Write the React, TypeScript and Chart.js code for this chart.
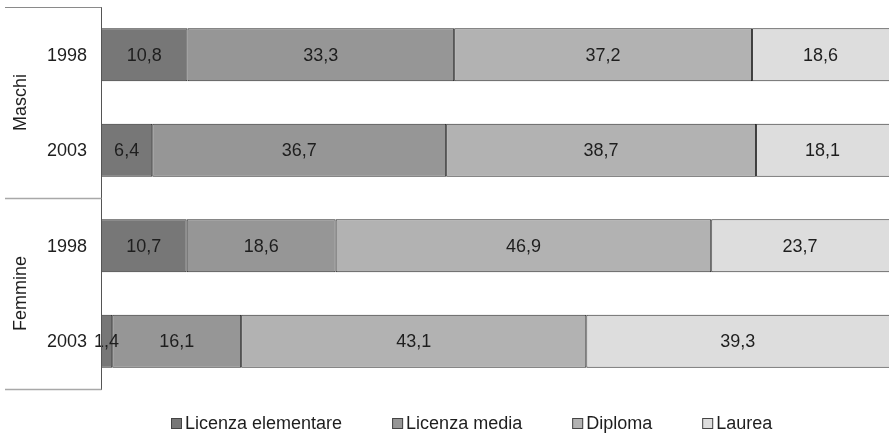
import React, { useEffect, useRef } from 'react';
import { Chart, registerables } from 'chart.js';

Chart.register(...registerables);

const groups = ['Maschi', 'Femmine'];
const years = ['1998', '2003', '1998', '2003'];
const seriesNames = ['Licenza elementare', 'Licenza media', 'Diploma', 'Laurea'];
const elementare = [10.8, 6.4, 10.7, 1.4];
const media = [33.3, 36.7, 18.6, 16.1];
const diploma = [37.2, 38.7, 46.9, 43.1];
const laurea = [18.6, 18.1, 23.7, 39.3];
const colors = ['#777777', '#969696', '#b2b2b2', '#dddddd'];

const FONT = '"Liberation Sans", Arial, sans-serif';
const TEXT = '#1e1e1e';

const decorPlugin = {
  id: 'decor',
  afterDatasetsDraw(chart: any) {
    const { ctx, chartArea } = chart;
    ctx.save();
    ctx.font = `18px ${FONT}`;
    ctx.fillStyle = TEXT;
    ctx.textAlign = 'center';
    ctx.textBaseline = 'middle';
    chart.data.datasets.forEach((ds: any, di: number) => {
      const meta = chart.getDatasetMeta(di);
      meta.data.forEach((el: any, i: number) => {
        const p = el.getProps(['x', 'y', 'base'], true);
        const a = Math.max(Math.min(p.x, p.base), chartArea.left);
        const b = Math.min(Math.max(p.x, p.base), chartArea.right);
        const cx = (a + b) / 2;
        const txt = ds.data[i].toFixed(1).replace('.', ',');
        ctx.fillText(txt, cx, p.y + 1);
      });
    });
    ctx.restore();
  },
  afterDraw(chart: any) {
    const { ctx, chartArea, scales } = chart;
    const { top, bottom, left } = chartArea;
    const band = (bottom - top) / years.length;
    ctx.save();
    // axis line
    ctx.strokeStyle = '#555555';
    ctx.lineWidth = 1;
    ctx.beginPath();
    ctx.moveTo(left + 0.5, top);
    ctx.lineTo(left + 0.5, bottom + 1);
    ctx.stroke();
    // separators
    for (let g = 0; g <= groups.length; g++) {
      const y = top + band * 2 * g;
      ctx.strokeStyle = g === 0 ? '#8a8a8a' : '#a8a8a8';
      ctx.lineWidth = g === 0 ? 1 : 1.5;
      ctx.beginPath();
      ctx.moveTo(5, Math.round(y) + 0.5);
      ctx.lineTo(left + 0.5, Math.round(y) + 0.5);
      ctx.stroke();
    }
    ctx.fillStyle = TEXT;
    ctx.font = `18px ${FONT}`;
    ctx.textBaseline = 'middle';
    // year labels
    ctx.textAlign = 'right';
    years.forEach((yr, i) => {
      ctx.fillText(yr, left - 14, scales.y.getPixelForValue(i) + 1);
    });
    // group labels
    ctx.textAlign = 'center';
    groups.forEach((g, i) => {
      const cy = top + band * (2 * i + 1);
      ctx.save();
      ctx.translate(21, cy);
      ctx.rotate(-Math.PI / 2);
      ctx.fillText(g, 0, 0);
      ctx.restore();
    });
    // legend
    const opts = chart.options.plugins.decor;
    ctx.textAlign = 'left';
    let x = opts.legendStart;
    const y = opts.legendY;
    seriesNames.forEach((name, i) => {
      ctx.fillStyle = colors[i];
      ctx.fillRect(x, y - 5, 11, 11);
      ctx.strokeStyle = '#444444';
      ctx.lineWidth = 1;
      ctx.strokeRect(x + 0.5, y - 4.5, 10, 10);
      ctx.fillStyle = TEXT;
      ctx.fillText(name, x + 14, y + 1);
      x += 14 + ctx.measureText(name).width + opts.legendGap;
    });
    ctx.restore();
  },
};

export default function App() {
  const ref = useRef<HTMLCanvasElement>(null);
  useEffect(() => {
    if (!ref.current) return;
    const seriesData = [elementare, media, diploma, laurea];
    const chart = new Chart(ref.current, {
      type: 'bar',
      data: {
        labels: years,
        datasets: seriesNames.map((n, i) => ({
          label: n,
          data: seriesData[i],
          backgroundColor: colors[i],
          borderColor: '#2a2a2a',
          borderWidth: 1,
          borderSkipped: false,
          barPercentage: 0.555,
          categoryPercentage: 1,
        })),
      },
      options: {
        indexAxis: 'y',
        animation: false,
        responsive: true,
        maintainAspectRatio: false,
        layout: { padding: { top: 7, bottom: 56, left: 0, right: 0 } },
        scales: {
          x: { stacked: true, display: false, min: 0, max: 98.4 },
          y: {
            stacked: true,
            grid: { display: false, drawTicks: false },
            border: { display: false },
            ticks: { display: false },
            afterFit(scale: any) {
              scale.width = 101;
            },
          },
        },
        plugins: {
          legend: { display: false },
          tooltip: { enabled: false },
          decor: { legendStart: 171, legendGap: 50, legendY: 423 },
        } as any,
      },
      plugins: [decorPlugin],
    });
    return () => chart.destroy();
  }, []);
  return (
    <div style={{ position: 'absolute', left: 0, top: 0, width: 889, height: 445, background: '#fff' }}>
      <canvas ref={ref} />
    </div>
  );
}
